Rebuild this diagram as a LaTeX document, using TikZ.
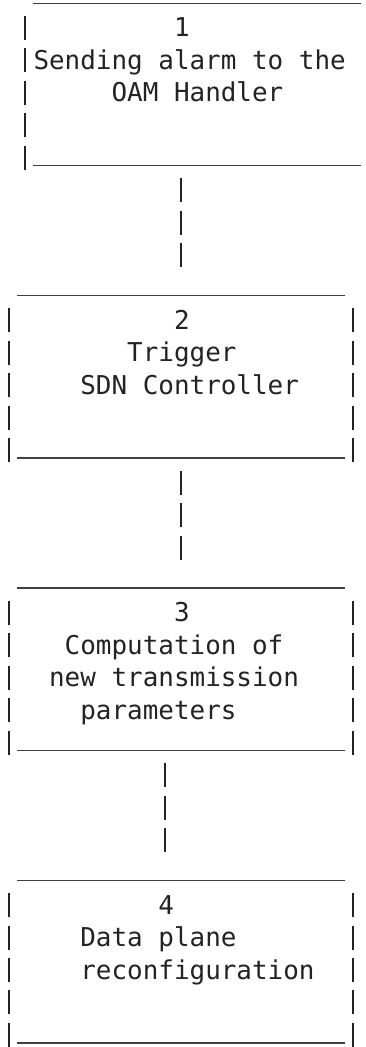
\documentclass[tikz,border=0pt]{standalone}
\usepackage{fontspec}
\setmonofont{DejaVu Sans Mono}
\usepackage{tikz}
\usetikzlibrary{calc}
\usetikzlibrary{fit}
\definecolor{sqsqsq}{rgb}{0.13725490196078433,0.13725490196078433,0.13725490196078433}
\definecolor{uququq}{rgb}{0.25098039215686274,0.25098039215686274,0.25098039215686274}
\newlength{\cw}
\settowidth{\cw}{\fontsize{19.45pt}{24.37pt}\selectfont\ttfamily 0}
\newcommand{\ind}[1]{\hspace*{#1\cw}}

\begin{document}
\begin{tikzpicture}[line cap=butt,x=0.75pt,y=-0.75pt,
  area/.style={inner sep=0pt,outer sep=0pt},
  boxtext/.style={anchor=north west,align=left,inner sep=0pt,outer sep=0pt,text=sqsqsq,font=\ttfamily\fontsize{19.45pt}{24.37pt}\selectfont},
  bar/.style={line width=1.1pt,color=uququq},
  side/.style={line width=1.6pt,color=sqsqsq,dash pattern=on 18pt off 6.37pt},
  link/.style={side,shorten <=9.37pt,shorten >=21.37pt}]
\useasboundingbox (0,0) rectangle (365,1047);
% box areas
\node[area,fit={(32.72,3.3) (360.53,165.75)}] (b1) {};
\node[area,fit={(17.11,295.7) (344.92,458.2)}] (b2) {};
\node[area,fit={(17.11,588.1) (344.92,750.6)}] (b3) {};
\node[area,fit={(17.11,880.5) (344.92,1043)}] (b4) {};
% outlines
\foreach \b in {b1,b2,b3,b4}{
  \draw[bar] (\b.north west) -- (\b.north east);
  \draw[bar] (\b.south west) -- (\b.south east);
  \draw[side] ($(\b.north west)+(-7.8,12.5)$) -- ($(\b.south west)+(-7.8,4)$);
}
\foreach \b in {b2,b3,b4}
  \draw[side] ($(\b.north east)+(7.8,12.5)$) -- ($(\b.south east)+(7.8,4)$);
% texts
\node[boxtext] (t1) at ($(b1.north west)+(0.8,10.8)$) {\strut\ind{9}1\\Sending alarm to the\\\ind{5}OAM Handler};
\node[boxtext] (t2) at ($(b2.north west)+(0.8,10.8)$) {\strut\ind{10}2\\\ind{7}Trigger\\\ind{4}SDN Controller};
\node[boxtext] (t3) at ($(b3.north west)+(0.8,10.8)$) {\strut\ind{10}3\\\ind{3}Computation of\\\ind{2}new transmission\\\ind{4}parameters};
\node[boxtext] (t4) at ($(b4.north west)+(0.8,10.8)$) {\strut\ind{9}4\\\ind{4}Data plane\\\ind{4}reconfiguration};
% connectors
\draw[link] (b2.north |- b1.south) -- (b2.north);
\draw[link] (b2.south) -- (b3.north);
\draw[link] ($(b3.south)+(-15.61,0)$) -- ($(b4.north)+(-15.61,0)$);
\end{tikzpicture}
\end{document}
